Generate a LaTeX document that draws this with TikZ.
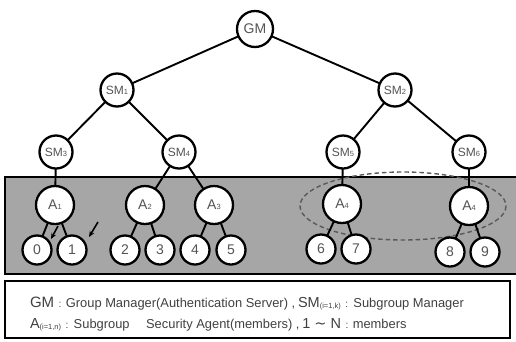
\documentclass[tikz,border=0pt]{standalone}
\usepackage{fontspec}
\setmainfont{Liberation Sans}
\newfontfamily\symfont{DejaVu Sans}
\usetikzlibrary{arrows.meta}

% small baseline index used in node labels
\newcommand\idx[1]{{\fontsize{7.5}{7.5}\selectfont #1}}
\newcommand\lidx[1]{\raisebox{-1pt}{\fontsize{7.5}{7.5}\selectfont #1}}

\definecolor{panel}{gray}{0.65}
\definecolor{ink}{gray}{0.33}

\tikzset{
  every node/.style={inner sep=0pt, outer sep=0pt},
  ring/.style={circle, draw=black, line width=2.3pt, fill=white, text=ink},
  boss/.style={ring, minimum size=36pt, font=\fontsize{14}{14}\selectfont},
  sub/.style={ring, minimum size=33pt, font=\fontsize{12}{12}\selectfont},
  agent/.style={ring, minimum size=38pt, font=\fontsize{14}{14}\selectfont},
  member/.style={ring, minimum size=29pt, font=\fontsize{14}{14}\selectfont},
  link/.style={draw=black, line width=1.9pt},
  pointer/.style={draw=black, line width=1.6pt, -{Stealth[length=6pt,width=5pt]}},
}

\begin{document}
\begin{tikzpicture}[x=1pt, y=-1pt]
\useasboundingbox (0,0) rectangle (516,341);

% shaded member area
\draw[line width=2.2pt, fill=panel] (5,177) rectangle (530,274);

% dashed grouping of the two A4 agents
\draw[dashed, dash pattern=on 4.5pt off 3pt, line width=1.4pt, draw=black!65]
  (403,206) ellipse [x radius=103, y radius=34];

% managers
\node[boss] (gm) at (255,29) {GM};
\node[sub] (sm1) at (117,90) {SM\idx{1}};
\node[sub] (sm2) at (395,90) {SM\idx{2}};
\node[sub] (sm3) at (56,152) {SM\idx{3}};
\node[sub] (sm4) at (179,152) {SM\idx{4}};
\node[sub] (sm5) at (343,152) {SM\idx{5}};
\node[sub] (sm6) at (469,152) {SM\idx{6}};

% security agents
\node[agent] (a1) at (55,205) {A\idx{1}};
\node[agent] (a2) at (145,205) {A\idx{2}};
\node[agent] (a3) at (214,205) {A\idx{3}};
\node[agent] (a4) at (342,204) {A\idx{4}};
\node[agent] (a5) at (469,206) {A\idx{4}};

% members
\node[member] (m0) at (37,250) {0};
\node[member] (m1) at (72,250) {1};
\node[member] (m2) at (125,250) {2};
\node[member] (m3) at (160,250) {3};
\node[member] (m4) at (195,250) {4};
\node[member] (m5) at (231,250) {5};
\node[member] (m6) at (321,249) {6};
\node[member] (m7) at (356,249) {7};
\node[member] (m8) at (450,252) {8};
\node[member] (m9) at (485,252) {9};

% tree links
\path[link] (gm) -- (sm1);
\path[link] (gm) -- (sm2);
\path[link] (sm1) -- (sm3);
\path[link] (sm1) -- (sm4);
\path[link] (sm2) -- (sm5);
\path[link] (sm2) -- (sm6);
\path[link] (sm3) -- (a1);
\path[link] (sm4) -- (a2);
\path[link] (sm4) -- (a3);
\path[link] (sm5) -- (a4);
\path[link] (sm6) -- (a5);
\path[link] (a1) -- (m0);
\path[link] (a1) -- (m1);
\path[link] (a2) -- (m2);
\path[link] (a2) -- (m3);
\path[link] (a3) -- (m4);
\path[link] (a3) -- (m5);
\path[link] (a4) -- (m6);
\path[link] (a4) -- (m7);
\path[link] (a5) -- (m8);
\path[link] (a5) -- (m9);

% small pointers beside the first members
\coordinate (p1s) at (58,226);
\coordinate (p1e) at (51,239);
\coordinate (p2s) at (98,222);
\coordinate (p2e) at (89,237);
\draw[pointer] (p1s) -- (p1e);
\draw[pointer] (p2s) -- (p2e);

% legend
\draw[line width=2.6pt] (5,281) rectangle (510,338);
\node[anchor=base west, text=black!75] (leg1) at (30,307)
  {{\fontsize{15}{15}\selectfont GM} \,:\, {\fontsize{12.9}{12.9}\selectfont Group Manager(Authentication Server) ,}
   {\fontsize{14.5}{14.5}\selectfont SM}\lidx{(i=1,k)} \,:\, {\fontsize{12.9}{12.9}\selectfont Subgroup Manager}};
\node[anchor=base west, text=black!75] (leg2) at (30,328)
  {{\fontsize{14.5}{14.5}\selectfont A}\lidx{(i=1,n)} \,:\, {\fontsize{12.9}{12.9}\selectfont Subgroup\quad\ Security Agent(members) ,}
   {\fontsize{14.5}{14.5}\selectfont 1 {\symfont ∼} N} \,:\, {\fontsize{12.9}{12.9}\selectfont members}};
\end{tikzpicture}
\end{document}
